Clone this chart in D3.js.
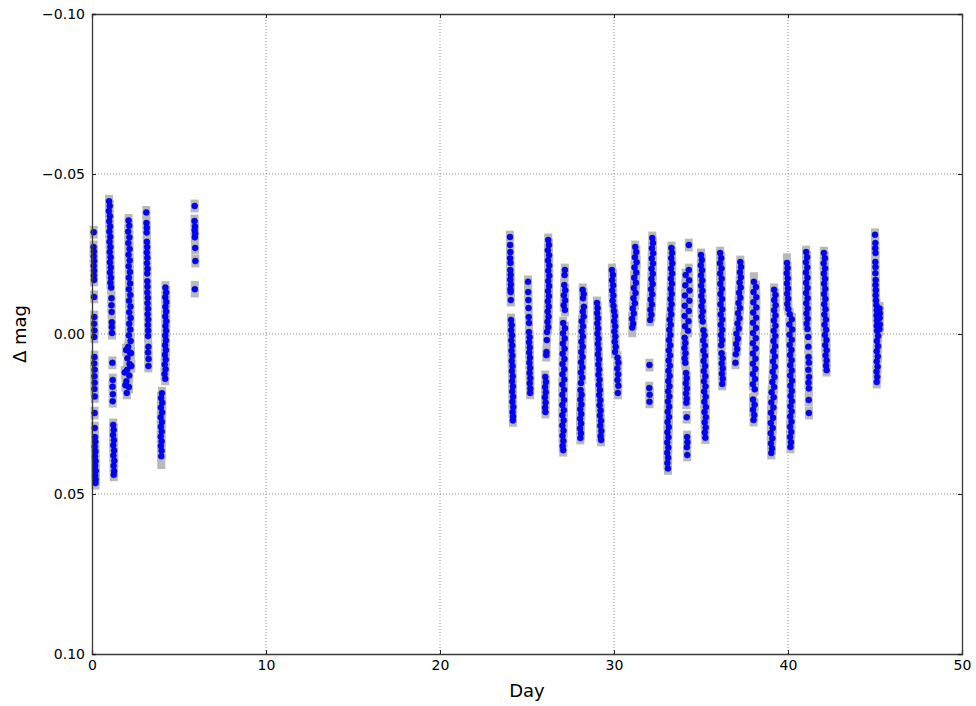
<!DOCTYPE html>
<html>
<head>
<meta charset="utf-8">
<script src="https://cdn.jsdelivr.net/npm/d3@7"></script>
<style>
  body { margin: 0; background: #fff; }
  text { font-family: "DejaVu Sans", sans-serif; fill: #000; }
</style>
</head>
<body>
<div id="chart"></div>
<script>
// photometry: one array per night, [day, delta mag, (optional error)]
const night00 = [[0.10,-0.0318],[0.09,-0.0272],[0.11,-0.0258],[0.10,-0.0243],[0.12,-0.0228],[0.10,-0.0213],[0.12,-0.0198],[0.11,-0.0183],[0.12,-0.0169],[0.12,-0.0116],[0.13,-0.0053],[0.12,-0.0032],[0.14,-0.0011],[0.13,0.0009],[0.14,0.0072],[0.13,0.0092],[0.15,0.0112],[0.14,0.0132],[0.15,0.0152],[0.14,0.0172],[0.16,0.0195],[0.15,0.0247],[0.16,0.0294],[0.17,0.0322],[0.19,0.0337],[0.16,0.0352],[0.20,0.0367],[0.17,0.0382],[0.21,0.0397],[0.18,0.0412],[0.22,0.0427],[0.19,0.0442],[0.21,0.0455],[0.20,0.0466]];
const night01 = [[0.98,-0.0415],[1.02,-0.0400],[0.97,-0.0384],[1.03,-0.0368],[0.99,-0.0352],[1.04,-0.0336],[1.00,-0.0320],[1.05,-0.0304],[1.01,-0.0288],[1.06,-0.0272],[1.02,-0.0256],[1.07,-0.0240],[1.03,-0.0224],[1.08,-0.0208],[1.04,-0.0192],[1.09,-0.0176],[1.06,-0.0160],[1.10,-0.0145],[1.12,-0.0112],[1.12,-0.0090],[1.13,-0.0069],[1.14,-0.0037],[1.14,-0.0022],[1.15,-0.0003],[1.17,0.0090],[1.19,0.0144],[1.18,0.0165],[1.20,0.0188],[1.19,0.0210],[1.22,0.0284],[1.25,0.0300],[1.21,0.0316],[1.26,0.0332],[1.22,0.0348],[1.27,0.0364],[1.23,0.0380],[1.28,0.0396],[1.24,0.0412],[1.27,0.0428],[1.25,0.0440]];
const night02 = [[2.10,-0.0355],[2.14,-0.0338],[2.08,-0.0320],[2.15,-0.0302],[2.09,-0.0284],[2.16,-0.0266],[2.10,-0.0248],[2.17,-0.0230],[2.11,-0.0212],[2.18,-0.0194],[2.12,-0.0176],[2.19,-0.0158],[2.12,-0.0140],[2.20,-0.0122],[2.13,-0.0104],[2.21,-0.0086],[2.14,-0.0068],[2.22,-0.0050],[2.14,-0.0032],[2.20,-0.0014],[2.12,0.0004],[2.22,0.0022],[2.08,0.0040],[2.18,0.0058],[2.04,0.0076],[2.16,0.0094],[2.02,0.0112],[2.14,0.0130],[1.98,0.0148],[2.12,0.0166],[2.00,0.0184],[2.24,0.0060],[2.26,0.0100],[1.96,0.0050],[1.88,0.0120],[1.92,0.0160]];
const night03 = [[3.12,-0.0380],[3.13,-0.0347],[3.15,-0.0332],[3.14,-0.0317],[3.15,-0.0288],[3.17,-0.0272],[3.15,-0.0255],[3.18,-0.0238],[3.16,-0.0221],[3.19,-0.0204],[3.17,-0.0189],[3.18,-0.0165],[3.19,-0.0148],[3.18,-0.0130],[3.21,-0.0113],[3.19,-0.0096],[3.22,-0.0079],[3.20,-0.0062],[3.23,-0.0045],[3.21,-0.0028],[3.23,-0.0011],[3.22,0.0006],[3.24,0.0040],[3.22,0.0058],[3.25,0.0078],[3.24,0.0100]];
const night04 = [[4.22,-0.0145],[4.26,-0.0130],[4.21,-0.0115],[4.27,-0.0100],[4.22,-0.0085],[4.26,-0.0070],[4.21,-0.0055],[4.27,-0.0040],[4.22,-0.0025],[4.26,-0.0010],[4.21,0.0005],[4.25,0.0020],[4.20,0.0035],[4.25,0.0050],[4.19,0.0065],[4.24,0.0080],[4.18,0.0095],[4.23,0.0110],[4.17,0.0125],[4.21,0.0140],[4.02,0.0185],[3.97,0.0200],[4.04,0.0215],[3.96,0.0230],[4.03,0.0245],[3.95,0.0260],[4.02,0.0275],[3.96,0.0290],[4.01,0.0305],[3.95,0.0320],[4.00,0.0335],[3.96,0.0350],[4.00,0.0365,0.003],[3.98,0.0382,0.004]];
const night05 = [[5.90,-0.0400],[5.89,-0.0353],[5.92,-0.0336],[5.90,-0.0325],[5.93,-0.0314],[5.91,-0.0302],[5.93,-0.0269],[5.94,-0.0228],[5.91,-0.0140,0.0026]];
const night24 = [[24.02,-0.0303],[24.03,-0.0278],[24.04,-0.0256],[24.03,-0.0237],[24.05,-0.0222],[24.04,-0.0200],[24.06,-0.0185],[24.04,-0.0170],[24.07,-0.0155],[24.05,-0.0140],[24.06,-0.0131],[24.07,-0.0106],[24.08,-0.0044],[24.12,-0.0028],[24.09,-0.0012],[24.14,0.0004],[24.10,0.0020],[24.15,0.0036],[24.11,0.0052],[24.16,0.0068],[24.12,0.0084],[24.17,0.0100],[24.13,0.0116],[24.18,0.0132],[24.14,0.0148],[24.19,0.0164],[24.15,0.0180],[24.20,0.0196],[24.16,0.0212],[24.21,0.0228],[24.17,0.0244],[24.20,0.0258],[24.19,0.0270]];
const night25 = [[25.06,-0.0163],[25.07,-0.0131],[25.08,-0.0106],[25.09,-0.0081],[25.10,-0.0053],[25.12,-0.0034],[25.11,-0.0006],[25.15,0.0010],[25.12,0.0026],[25.16,0.0042],[25.13,0.0058],[25.17,0.0074],[25.14,0.0090],[25.18,0.0106],[25.15,0.0122],[25.19,0.0138],[25.16,0.0154],[25.19,0.0170],[25.18,0.0184]];
const night26 = [[26.22,-0.0294],[26.26,-0.0278],[26.20,-0.0262],[26.27,-0.0246],[26.21,-0.0230],[26.28,-0.0214],[26.22,-0.0198],[26.28,-0.0182],[26.22,-0.0166],[26.27,-0.0150],[26.21,-0.0134],[26.26,-0.0118],[26.20,-0.0102],[26.25,-0.0086],[26.19,-0.0070],[26.24,-0.0054],[26.18,-0.0038],[26.22,-0.0022],[26.15,-0.0006],[26.14,0.0019],[26.12,0.0056],[26.11,0.0066],[26.05,0.0134],[26.09,0.0150],[26.04,0.0166],[26.08,0.0182],[26.03,0.0198],[26.07,0.0214],[26.04,0.0230],[26.06,0.0244]];
const night27 = [[27.18,-0.0200],[27.16,-0.0184],[27.14,-0.0153],[27.20,-0.0137],[27.12,-0.0121],[27.19,-0.0105],[27.11,-0.0090],[27.18,-0.0075],[27.08,-0.0034],[27.18,-0.0018],[27.07,-0.0002],[27.17,0.0014],[27.06,0.0030],[27.16,0.0046],[27.05,0.0062],[27.15,0.0078],[27.04,0.0094],[27.14,0.0110],[27.04,0.0126],[27.14,0.0142],[27.03,0.0158],[27.13,0.0174],[27.03,0.0190],[27.13,0.0206],[27.03,0.0222],[27.12,0.0238],[27.03,0.0254],[27.11,0.0270],[27.03,0.0286],[27.10,0.0302],[27.04,0.0318],[27.09,0.0334],[27.05,0.0350],[27.08,0.0363]];
const night28 = [[28.20,-0.0138],[28.26,-0.0125],[28.22,-0.0112],[28.27,-0.0085],[28.21,-0.0070],[28.26,-0.0055],[28.15,-0.0040],[28.22,-0.0024],[28.14,-0.0008],[28.21,0.0008],[28.13,0.0024],[28.20,0.0040],[28.12,0.0056],[28.19,0.0072],[28.11,0.0088],[28.18,0.0104],[28.10,0.0120],[28.17,0.0136],[28.10,0.0153],[28.08,0.0175],[28.14,0.0190],[28.07,0.0205],[28.13,0.0220],[28.06,0.0235],[28.12,0.0250],[28.05,0.0265],[28.11,0.0280],[28.05,0.0295],[28.10,0.0310],[28.07,0.0325]];
const night29 = [[29.02,-0.0097],[29.06,-0.0081],[29.03,-0.0065],[29.08,-0.0049],[29.04,-0.0033],[29.09,-0.0017],[29.05,-0.0001],[29.11,0.0015],[29.07,0.0031],[29.12,0.0047],[29.08,0.0063],[29.14,0.0079],[29.10,0.0095],[29.15,0.0111],[29.11,0.0127],[29.17,0.0143],[29.13,0.0159],[29.19,0.0175],[29.15,0.0191],[29.21,0.0207],[29.17,0.0223],[29.23,0.0239],[29.19,0.0255],[29.25,0.0271],[29.21,0.0287],[29.27,0.0303],[29.23,0.0319],[29.26,0.0331]];
const night30 = [[29.88,-0.0200],[29.94,-0.0184],[29.89,-0.0168],[29.95,-0.0152],[29.90,-0.0136],[29.96,-0.0120],[29.92,-0.0104],[29.97,-0.0088],[30.00,-0.0072],[30.05,-0.0056],[30.01,-0.0040],[30.07,-0.0024],[30.02,-0.0008],[30.08,0.0008],[30.04,0.0024],[30.10,0.0040],[30.06,0.0056],[30.20,0.0074],[30.25,0.0090],[30.19,0.0108],[30.24,0.0126],[30.20,0.0144],[30.25,0.0162],[30.22,0.0184]];
const night31 = [[31.22,-0.0272],[31.28,-0.0256],[31.20,-0.0240],[31.30,-0.0224],[31.18,-0.0208],[31.28,-0.0192],[31.16,-0.0176],[31.26,-0.0160],[31.14,-0.0144],[31.24,-0.0128],[31.12,-0.0112],[31.20,-0.0096],[31.08,-0.0080],[31.14,-0.0064],[31.04,-0.0048],[31.10,-0.0032],[31.05,-0.0020,0.003]];
const night32 = [[32.20,-0.0300],[32.24,-0.0284],[32.18,-0.0268],[32.25,-0.0252],[32.17,-0.0236],[32.24,-0.0220],[32.16,-0.0204],[32.23,-0.0188],[32.15,-0.0172],[32.22,-0.0156],[32.13,-0.0140],[32.20,-0.0124],[32.11,-0.0108],[32.18,-0.0092],[32.09,-0.0076],[32.15,-0.0060],[32.08,-0.0044],[32.04,0.0097],[32.03,0.0169],[32.05,0.0190],[32.04,0.0212]];
const night33 = [[33.30,-0.0269],[33.34,-0.0253],[33.29,-0.0237],[33.35,-0.0221],[33.28,-0.0205],[33.34,-0.0189],[33.27,-0.0173],[33.33,-0.0157],[33.26,-0.0141],[33.32,-0.0125],[33.25,-0.0109],[33.31,-0.0093],[33.24,-0.0077],[33.29,-0.0061],[33.20,-0.0045],[33.26,-0.0029],[33.18,-0.0013],[33.24,0.0003],[33.16,0.0019],[33.23,0.0035],[33.15,0.0051],[33.22,0.0067],[33.14,0.0083],[33.21,0.0099],[33.13,0.0115],[33.20,0.0131],[33.12,0.0147],[33.19,0.0163],[33.11,0.0179],[33.18,0.0195],[33.10,0.0211],[33.17,0.0227],[33.09,0.0243],[33.16,0.0259],[33.08,0.0275],[33.15,0.0291],[33.07,0.0307],[33.13,0.0323],[33.06,0.0339],[33.12,0.0355],[33.06,0.0371],[33.11,0.0387],[33.07,0.0403],[33.10,0.0420]];
const night34 = [[34.30,-0.0278],[34.30,-0.0200],[34.12,-0.0184],[34.32,-0.0168],[34.10,-0.0152],[34.34,-0.0136],[34.08,-0.0120],[34.33,-0.0104],[34.07,-0.0088],[34.30,-0.0072],[34.06,-0.0056],[34.28,-0.0040],[34.08,-0.0024],[34.25,-0.0010],[34.06,0.0012],[34.10,0.0028],[34.05,0.0044],[34.11,0.0060],[34.06,0.0076],[34.10,0.0090],[34.14,0.0122],[34.18,0.0138],[34.13,0.0154],[34.19,0.0170],[34.14,0.0186],[34.18,0.0202],[34.16,0.0215],[34.18,0.0260],[34.20,0.0322],[34.22,0.0338],[34.19,0.0354],[34.21,0.0378]];
const night35 = [[35.00,-0.0247],[35.05,-0.0231],[34.99,-0.0215],[35.06,-0.0199],[35.00,-0.0183],[35.07,-0.0167],[35.01,-0.0151],[35.08,-0.0135],[35.02,-0.0119],[35.09,-0.0103],[35.03,-0.0087],[35.10,-0.0071],[35.04,-0.0055],[35.10,-0.0039],[35.14,-0.0012],[35.20,0.0004],[35.13,0.0020],[35.22,0.0036],[35.14,0.0052],[35.23,0.0068],[35.15,0.0084],[35.24,0.0100],[35.16,0.0116],[35.25,0.0132],[35.17,0.0148],[35.26,0.0164],[35.18,0.0180],[35.27,0.0196],[35.19,0.0212],[35.28,0.0228],[35.20,0.0244],[35.28,0.0260],[35.21,0.0276],[35.27,0.0292],[35.22,0.0308],[35.25,0.0324]];
const night36 = [[36.10,-0.0253],[36.16,-0.0237],[36.09,-0.0221],[36.18,-0.0205],[36.10,-0.0189],[36.19,-0.0173],[36.11,-0.0157],[36.20,-0.0141],[36.12,-0.0125],[36.21,-0.0109],[36.12,-0.0093],[36.22,-0.0077],[36.13,-0.0061],[36.22,-0.0045],[36.14,-0.0029],[36.22,-0.0013],[36.15,0.0003],[36.21,0.0019],[36.16,0.0035],[36.18,0.0060],[36.24,0.0076],[36.19,0.0092],[36.25,0.0108],[36.20,0.0124],[36.25,0.0140],[36.22,0.0156]];
const night37 = [[37.26,-0.0225],[37.30,-0.0209],[37.24,-0.0193],[37.29,-0.0177],[37.22,-0.0161],[37.28,-0.0145],[37.19,-0.0129],[37.26,-0.0113],[37.16,-0.0097],[37.24,-0.0081],[37.13,-0.0065],[37.21,-0.0049],[37.10,-0.0033],[37.17,-0.0017],[37.04,-0.0001],[37.12,0.0015],[37.02,0.0031],[37.08,0.0047],[37.00,0.0063],[36.98,0.0090]];
const night38 = [[38.04,-0.0163,0.003],[38.16,-0.0147],[38.02,-0.0131],[38.18,-0.0115],[38.01,-0.0099],[38.18,-0.0083],[38.00,-0.0067],[38.17,-0.0051],[37.99,-0.0035],[38.16,-0.0019],[37.99,-0.0003],[38.15,0.0013],[37.98,0.0029],[38.14,0.0045],[37.98,0.0061],[38.13,0.0077],[37.98,0.0093],[38.12,0.0109],[37.98,0.0125],[38.11,0.0141],[37.98,0.0157],[38.09,0.0173],[37.99,0.0205],[38.08,0.0221],[37.99,0.0237],[38.06,0.0253],[38.02,0.0269]];
const night39 = [[39.20,-0.0138],[39.28,-0.0122],[39.21,-0.0106],[39.29,-0.0090],[39.20,-0.0074],[39.28,-0.0058],[39.19,-0.0042],[39.28,-0.0026],[39.18,-0.0010],[39.27,0.0006],[39.17,0.0022],[39.26,0.0038],[39.16,0.0054],[39.25,0.0070],[39.14,0.0086],[39.24,0.0102],[39.12,0.0118],[39.22,0.0134],[39.10,0.0150],[39.20,0.0166],[39.06,0.0182],[39.18,0.0198],[39.04,0.0214],[39.16,0.0230],[39.02,0.0246],[39.14,0.0262],[39.01,0.0278],[39.12,0.0294],[39.01,0.0310],[39.10,0.0326],[39.02,0.0342],[39.08,0.0358],[39.04,0.0372]];
const night40 = [[39.94,-0.0222,0.003],[39.98,-0.0206],[39.93,-0.0190],[39.99,-0.0174],[39.94,-0.0158],[40.00,-0.0142],[39.95,-0.0126],[40.01,-0.0110],[39.96,-0.0094],[40.02,-0.0078],[40.10,-0.0062],[40.22,-0.0046],[40.08,-0.0030],[40.24,-0.0014],[40.09,0.0002],[40.22,0.0018],[40.10,0.0034],[40.20,0.0050],[40.12,0.0066],[40.21,0.0082],[40.13,0.0098],[40.22,0.0114],[40.13,0.0130],[40.23,0.0146],[40.14,0.0162],[40.22,0.0178],[40.15,0.0194],[40.22,0.0210],[40.14,0.0226],[40.21,0.0242],[40.13,0.0258],[40.20,0.0274],[40.12,0.0290],[40.19,0.0306],[40.12,0.0322],[40.17,0.0338],[40.14,0.0353]];
const night41 = [[41.04,-0.0256],[41.10,-0.0240],[41.03,-0.0224],[41.11,-0.0208],[41.03,-0.0192],[41.12,-0.0176],[41.04,-0.0160],[41.12,-0.0144],[41.04,-0.0128],[41.13,-0.0112],[41.05,-0.0096],[41.13,-0.0080],[41.06,-0.0064],[41.13,-0.0048],[41.07,-0.0032],[41.12,-0.0016],[41.16,0.0009],[41.17,0.0040],[41.18,0.0072],[41.20,0.0090],[41.17,0.0112],[41.21,0.0134],[41.18,0.0152],[41.20,0.0170],[41.19,0.0206],[41.20,0.0247]];
const night42 = [[42.06,-0.0253],[42.12,-0.0237],[42.05,-0.0221],[42.13,-0.0205],[42.06,-0.0189],[42.13,-0.0173],[42.07,-0.0157],[42.14,-0.0141],[42.07,-0.0125],[42.15,-0.0109],[42.08,-0.0093],[42.16,-0.0077],[42.09,-0.0061],[42.18,-0.0045],[42.10,-0.0029],[42.19,-0.0013],[42.12,0.0003],[42.21,0.0019],[42.14,0.0035],[42.22,0.0051],[42.16,0.0067],[42.22,0.0083],[42.19,0.0099],[42.22,0.0113]];
const night45 = [[45.00,-0.0310],[45.02,-0.0284],[45.01,-0.0268],[45.03,-0.0253],[45.02,-0.0225],[45.03,-0.0209],[45.02,-0.0190],[45.04,-0.0169],[45.03,-0.0153],[45.05,-0.0137],[45.04,-0.0121],[45.06,-0.0105],[45.08,-0.0090],[45.26,-0.0080],[45.10,-0.0074],[45.28,-0.0065],[45.09,-0.0058],[45.27,-0.0050],[45.11,-0.0042],[45.28,-0.0030],[45.10,-0.0026],[45.26,-0.0015],[45.12,-0.0010],[45.18,0.0006],[45.11,0.0022],[45.17,0.0038],[45.10,0.0054],[45.16,0.0070],[45.10,0.0086],[45.15,0.0102],[45.09,0.0118],[45.13,0.0134],[45.10,0.0150]];

const nights = [night00, night01, night02, night03, night04, night05,
  night24, night25, night26, night27, night28, night29, night30, night31,
  night32, night33, night34, night35, night36, night37, night38, night39,
  night40, night41, night42, night45];

const xTicks = [0, 10, 20, 30, 40, 50];
const yTicks = [-0.10, -0.05, 0.00, 0.05, 0.10];
const defaultErr = 0.002;

const width = 976;
const height = 706;
const margin = { top: 14, right: 14, bottom: 52, left: 92 };

const points = nights.flat().map((p) => ({ day: p[0], mag: p[1], err: p[2] || defaultErr }));

const svg = d3.select("#chart")
  .append("svg")
  .attr("width", width)
  .attr("height", height);

const x = d3.scaleLinear()
  .domain([0, 50])
  .range([margin.left, width - margin.right]);

const y = d3.scaleLinear()
  .domain([-0.10, 0.10])
  .range([margin.top, height - margin.bottom]);

const fmtY = (d) => d3.format(".2f")(d).replace("-", "\u2212");

// grid
svg.append("g")
  .selectAll("line")
  .data(xTicks.slice(1, -1))
  .join("line")
  .attr("x1", (d) => x(d)).attr("x2", (d) => x(d))
  .attr("y1", y(-0.10)).attr("y2", y(0.10))
  .attr("stroke", "#8a8a8a")
  .attr("stroke-width", 1)
  .attr("stroke-dasharray", "1,2");

svg.append("g")
  .selectAll("line")
  .data(yTicks.slice(1, -1))
  .join("line")
  .attr("x1", x(0)).attr("x2", x(50))
  .attr("y1", (d) => y(d)).attr("y2", (d) => y(d))
  .attr("stroke", "#8a8a8a")
  .attr("stroke-width", 1)
  .attr("stroke-dasharray", "1,2");

// error bars then points
svg.append("g")
  .selectAll("rect")
  .data(points)
  .join("rect")
  .attr("x", (d) => x(d.day) - 4)
  .attr("width", 8)
  .attr("y", (d) => y(d.mag - d.err))
  .attr("height", (d) => y(d.mag + d.err) - y(d.mag - d.err))
  .attr("fill", "#b9b9b9");

svg.append("g")
  .selectAll("circle")
  .data(points)
  .join("circle")
  .attr("cx", (d) => x(d.day))
  .attr("cy", (d) => y(d.mag))
  .attr("r", 3)
  .attr("fill", "#0000ff")
  .attr("stroke", "#0000c8")
  .attr("stroke-width", 0.5);

// axes (ticks inward, like the classic style)
function xAxis(g, orient) {
  const ax = orient === "bottom" ? d3.axisBottom(x) : d3.axisTop(x);
  g.call(ax.tickValues(xTicks).tickSize(-4).tickPadding(6).tickFormat(d3.format("d")));
}
function yAxis(g, orient) {
  const ax = orient === "left" ? d3.axisLeft(y) : d3.axisRight(y);
  g.call(ax.tickValues(yTicks).tickSize(-4).tickPadding(7).tickFormat(fmtY));
}

const gx = svg.append("g")
  .attr("transform", `translate(0,${y(0.10)})`)
  .call(xAxis, "bottom");
const gxTop = svg.append("g")
  .attr("transform", `translate(0,${y(-0.10)})`)
  .call(xAxis, "top");
const gy = svg.append("g")
  .attr("transform", `translate(${x(0)},0)`)
  .call(yAxis, "left");
const gyRight = svg.append("g")
  .attr("transform", `translate(${x(50)},0)`)
  .call(yAxis, "right");

gxTop.selectAll("text").remove();
gyRight.selectAll("text").remove();

svg.selectAll(".domain").attr("stroke", "#3a3a3a").attr("stroke-width", 1.3);
svg.selectAll(".tick line").attr("stroke", "#222");
gx.selectAll("text").attr("font-size", 14).attr("font-family", "DejaVu Sans").attr("fill", "#000");
gy.selectAll("text").attr("font-size", 14).attr("font-family", "DejaVu Sans").attr("fill", "#000");

svg.append("text")
  .attr("x", x(25))
  .attr("y", 697)
  .attr("text-anchor", "middle")
  .attr("font-size", 18)
  .text("Day");

svg.append("text")
  .attr("transform", `translate(26,${y(0)}) rotate(-90)`)
  .attr("text-anchor", "middle")
  .attr("font-size", 18)
  .text("\u0394 mag");
</script>
</body>
</html>
